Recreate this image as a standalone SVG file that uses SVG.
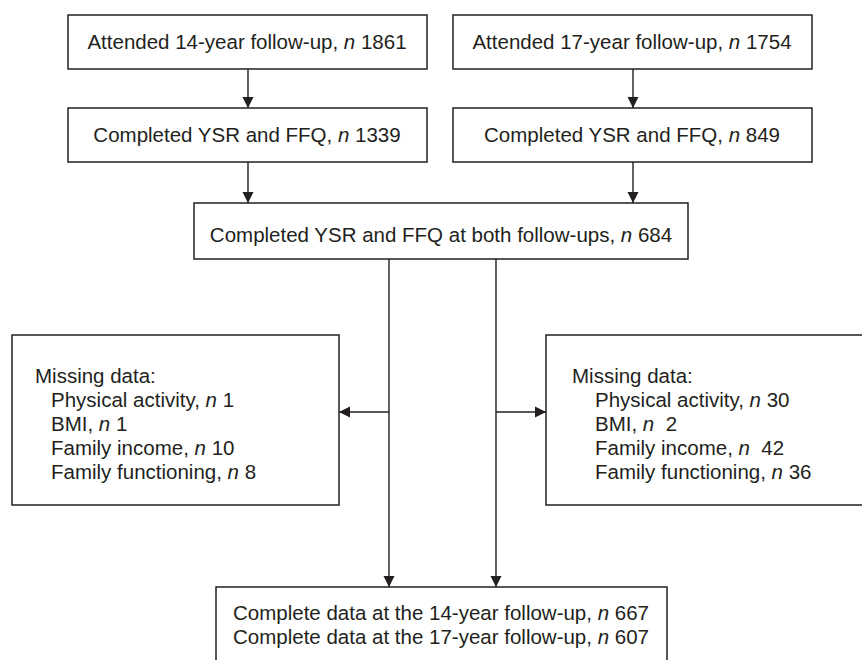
<svg xmlns="http://www.w3.org/2000/svg" width="862" height="660" viewBox="0 0 862 660">
<style>
.b{fill:#fff;stroke:#231f20;stroke-width:1.5}
.t{font-family:"Liberation Sans",Arial,sans-serif;font-size:20.5px;fill:#231f20;white-space:pre}
.m{text-anchor:middle}
.c{stroke:#231f20;stroke-width:1.4;fill:none;marker-end:url(#a)}
.l{stroke:#231f20;stroke-width:1.4;fill:none}
</style>
<defs><marker id="a" markerWidth="12" markerHeight="12" refX="11" refY="6" orient="auto" markerUnits="userSpaceOnUse"><path d="M0,0.5 L11,6 L0,11.5 z" fill="#231f20"/></marker></defs>
<rect width="862" height="660" fill="#fff"/>
<g id="connectors">
<line class="c" x1="248" y1="69" x2="248" y2="108"/>
<line class="c" x1="633" y1="69" x2="633" y2="108"/>
<line class="c" x1="248" y1="162" x2="248" y2="203"/>
<line class="c" x1="633" y1="162" x2="633" y2="203"/>
<line class="c" x1="389" y1="259" x2="389" y2="587"/>
<line class="c" x1="496" y1="259" x2="496" y2="587"/>
<line class="c" x1="389" y1="412" x2="339" y2="412"/>
<line class="c" x1="496" y1="412" x2="546" y2="412"/>
</g>
<g id="n1"><rect class="b" x="68" y="15" width="359" height="54"/><text class="t m" x="247" y="49">Attended 14-year follow-up, <tspan font-style="italic">n</tspan> 1861</text></g>
<g id="n2"><rect class="b" x="453" y="15" width="359" height="54"/><text class="t m" x="632" y="49">Attended 17-year follow-up, <tspan font-style="italic">n</tspan> 1754</text></g>
<g id="n3"><rect class="b" x="68" y="108" width="359" height="54"/><text class="t m" x="247" y="142">Completed YSR and FFQ, <tspan font-style="italic">n</tspan> 1339</text></g>
<g id="n4"><rect class="b" x="453" y="108" width="359" height="54"/><text class="t m" x="632" y="142">Completed YSR and FFQ, <tspan font-style="italic">n</tspan> 849</text></g>
<g id="n5"><rect class="b" x="194" y="203" width="494" height="56"/><text class="t m" x="441" y="242">Completed YSR and FFQ at both follow-ups, <tspan font-style="italic">n</tspan> 684</text></g>
<g id="n6"><rect class="b" x="12" y="335" width="327" height="170"/>
<text class="t" x="35" y="383">Missing data:</text>
<text class="t" x="51" y="407">Physical activity, <tspan font-style="italic">n</tspan> 1</text>
<text class="t" x="51" y="431">BMI, <tspan font-style="italic">n</tspan> 1</text>
<text class="t" x="51" y="455">Family income, <tspan font-style="italic">n</tspan> 10</text>
<text class="t" x="51" y="479">Family functioning, <tspan font-style="italic">n</tspan> 8</text></g>
<g id="n7"><rect class="b" x="546" y="335" width="322" height="170"/>
<text class="t" x="572" y="383">Missing data:</text>
<text class="t" x="595" y="407">Physical activity, <tspan font-style="italic">n</tspan> 30</text>
<text class="t" x="595" y="431">BMI, <tspan font-style="italic">n</tspan>  2</text>
<text class="t" x="595" y="455">Family income, <tspan font-style="italic">n</tspan>  42</text>
<text class="t" x="595" y="479">Family functioning, <tspan font-style="italic">n</tspan> 36</text></g>
<g id="n8"><rect class="b" x="216" y="587" width="451" height="90"/>
<text class="t m" x="441" y="620">Complete data at the 14-year follow-up, <tspan font-style="italic">n</tspan> 667</text>
<text class="t m" x="441" y="644">Complete data at the 17-year follow-up, <tspan font-style="italic">n</tspan> 607</text></g>
</svg>
